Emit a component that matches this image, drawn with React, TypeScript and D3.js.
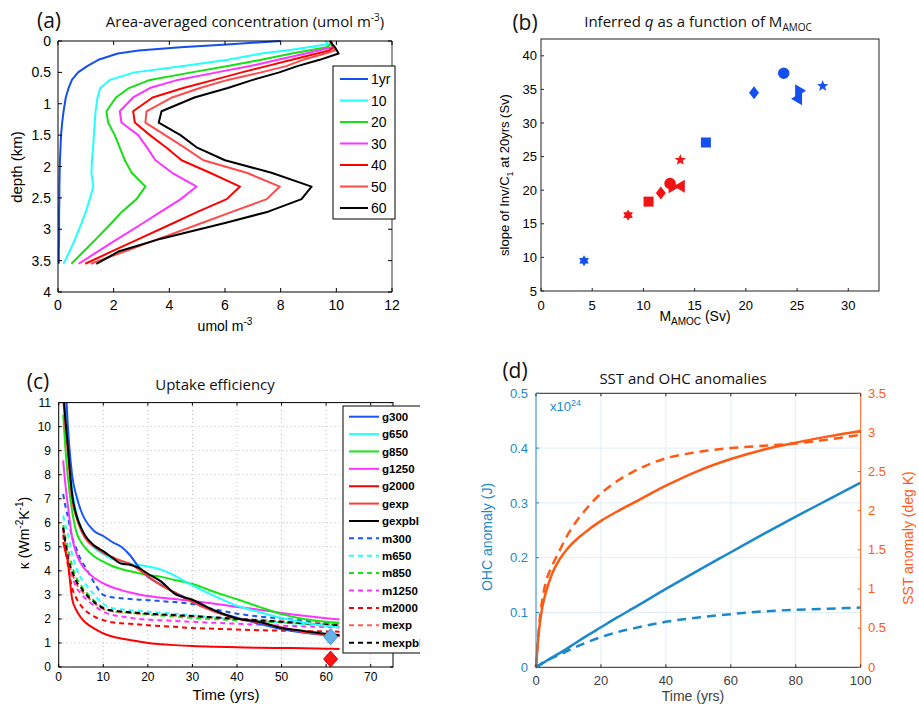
import { useEffect, useRef } from "react";
import * as d3 from "d3";

// ---------- (a) area-averaged concentration profiles ----------
const depthKm = [0, 0.05, 0.1, 0.15, 0.2, 0.3, 0.4, 0.5, 0.62, 0.75, 0.9, 1.12, 1.3, 1.5, 1.7, 1.9, 2.1, 2.32, 2.52, 2.72, 2.9, 3.15, 3.35, 3.55];
const conc1yr = [8.0, 6.2, 4.4, 2.9, 2.15, 1.45, 1.05, 0.72, 0.5, 0.38, 0.28, 0.2, 0.15, 0.11, 0.09, 0.07, 0.06, 0.05, 0.05, 0.04, 0.04, 0.04, 0.03, 0.03];
const conc10 = [9.6, 9.7, 9.0, 8.2, 7.3, 6.1, 4.5, 2.75, 1.86, 1.52, 1.42, 1.35, 1.32, 1.29, 1.26, 1.22, 1.2, 1.27, 1.14, 1.0, 0.85, 0.62, 0.42, 0.2];
const conc20 = [9.75, 9.8, 9.65, 9.0, 8.4, 7.3, 6.1, 4.8, 3.3, 2.55, 2.08, 1.74, 1.8, 2.04, 2.22, 2.4, 2.65, 3.14, 2.82, 2.3, 1.92, 1.38, 0.93, 0.48];
const conc30 = [9.75, 9.85, 9.85, 9.35, 8.9, 7.9, 6.9, 5.7, 4.3, 3.3, 2.7, 2.22, 2.28, 2.88, 3.2, 3.5, 4.1, 4.98, 4.41, 3.7, 3.06, 2.16, 1.45, 0.74];
const conc40 = [9.8, 9.85, 9.9, 9.75, 9.3, 8.4, 7.5, 6.6, 5.6, 4.5, 3.4, 2.7, 2.76, 3.3, 3.9, 4.44, 5.46, 6.54, 6.06, 5.03, 4.15, 2.93, 1.95, 0.98];
const conc50 = [9.8, 9.85, 9.9, 9.95, 9.6, 8.8, 8.2, 7.3, 6.1, 5.1, 4.1, 3.18, 3.14, 3.85, 4.55, 5.22, 6.78, 7.97, 7.5, 6.27, 5.17, 3.64, 2.41, 1.18];
const conc60 = [9.78, 9.85, 9.95, 10.02, 10.08, 9.4, 8.6, 7.95, 7.0, 6.1, 4.9, 3.72, 3.62, 4.4, 5.0, 6.0, 7.67, 9.11, 8.75, 7.55, 6.0, 3.7, 2.2, 1.38];
const aLabels = ["1yr", "10", "20", "30", "40", "50", "60"];
const aColors = ["#1450f0", "#22ffff", "#14e014", "#ff33ff", "#ff0000", "#ff4a4a", "#000000"];

// ---------- (b) inferred q vs M_AMOC ----------
const bShapes = ["hexagram", "square", "diamond", "circle", "triLeft", "triRight", "pentagram"];
const bBlueM = [4.2, 16.1, 20.8, 23.7, 25.0, 25.3, 27.5];
const bBlueQ = [9.5, 27.1, 34.5, 37.4, 33.6, 34.8, 35.5];
const bRedM = [8.5, 10.5, 11.7, 12.6, 13.55, 12.95, 13.6];
const bRedQ = [16.3, 18.3, 19.6, 21.0, 20.6, 20.5, 24.5];

// ---------- (c) uptake efficiency ----------
const cTime = [1, 1.5, 2, 3, 4, 5, 6, 8, 10, 12, 14, 16, 18, 20, 23, 26, 30, 35, 40, 45, 50, 55, 60, 63];
const g300 = [13.5, 12, 10.2, 8.0, 7.1, 6.5, 6.1, 5.65, 5.45, 5.2, 5.0, 4.65, 4.15, 3.75, 3.42, 3.1, 2.75, 2.32, 2.05, 1.8, 1.58, 1.42, 1.33, 1.3];
const g650 = [12.5, 11, 9.5, 7.4, 6.4, 5.8, 5.4, 4.95, 4.7, 4.5, 4.38, 4.3, 4.24, 4.18, 4.05, 3.8, 3.4, 2.95, 2.55, 2.28, 2.04, 1.85, 1.71, 1.65];
const g850 = [10.5, 9.1, 8.0, 6.5, 5.6, 5.2, 4.95, 4.6, 4.38, 4.2, 4.08, 3.98, 3.9, 3.83, 3.75, 3.62, 3.45, 3.12, 2.82, 2.5, 2.2, 2.0, 1.88, 1.84];
const g1250 = [8.6, 7.6, 6.8, 5.4, 4.7, 4.3, 4.05, 3.7, 3.48, 3.32, 3.2, 3.1, 3.02, 2.95, 2.88, 2.83, 2.75, 2.63, 2.5, 2.38, 2.25, 2.13, 2.03, 1.98];
const g2000 = [5.2, 4.8, 4.45, 2.85, 2.35, 2.05, 1.85, 1.6, 1.4, 1.27, 1.19, 1.12, 1.06, 1.0, 0.95, 0.91, 0.87, 0.84, 0.82, 0.8, 0.79, 0.78, 0.76, 0.75];
const gexp = [11.2, 10.0, 9.0, 7.0, 6.2, 5.7, 5.35, 5.0, 4.75, 4.58, 4.42, 4.3, 4.05, 3.78, 3.4, 3.1, 2.7, 2.3, 2.02, 1.85, 1.65, 1.45, 1.35, 1.28];
const gexpbl = [11.5, 10.3, 9.3, 7.2, 6.3, 5.8, 5.45, 5.05, 4.82, 4.55, 4.3, 4.25, 4.12, 3.88, 3.55, 3.05, 2.8, 2.35, 2.02, 1.88, 1.62, 1.5, 1.38, 1.32];
const m300 = [7.2, 6.7, 6.3, 5.4, 4.9, 4.45, 4.15, 3.5, 3.0, 2.9, 2.86, 2.83, 2.8, 2.78, 2.74, 2.7, 2.62, 2.4, 2.22, 2.1, 2.02, 1.93, 1.86, 1.82];
const m650 = [6.3, 5.9, 5.6, 4.7, 4.1, 3.7, 3.45, 3.0, 2.62, 2.45, 2.4, 2.36, 2.33, 2.3, 2.26, 2.22, 2.15, 2.07, 2.0, 1.92, 1.85, 1.78, 1.73, 1.7];
const m850 = [5.9, 5.4, 5.0, 4.2, 3.7, 3.4, 3.15, 2.75, 2.45, 2.32, 2.28, 2.25, 2.22, 2.18, 2.14, 2.1, 2.04, 1.99, 1.95, 1.9, 1.85, 1.81, 1.78, 1.76];
const m1250 = [5.8, 5.2, 4.7, 3.8, 3.3, 3.05, 2.85, 2.55, 2.3, 2.17, 2.1, 2.05, 2.0, 1.97, 1.94, 1.92, 1.88, 1.84, 1.8, 1.76, 1.72, 1.69, 1.66, 1.64];
const m2000 = [5.5, 4.9, 4.3, 3.3, 2.85, 2.55, 2.35, 2.1, 1.95, 1.86, 1.82, 1.8, 1.77, 1.74, 1.7, 1.67, 1.62, 1.59, 1.56, 1.53, 1.51, 1.49, 1.48, 1.47];
const mexp = [5.7, 5.1, 4.5, 3.9, 3.45, 3.2, 3.0, 2.65, 2.42, 2.32, 2.28, 2.25, 2.22, 2.2, 2.17, 2.14, 2.1, 2.05, 2.0, 1.95, 1.9, 1.85, 1.8, 1.78];
const mexpbl = [5.8, 5.2, 4.6, 4.0, 3.55, 3.3, 3.05, 2.7, 2.45, 2.35, 2.31, 2.28, 2.25, 2.22, 2.19, 2.16, 2.12, 2.06, 2.0, 1.94, 1.88, 1.82, 1.76, 1.72];
const cNames = ["g300", "g650", "g850", "g1250", "g2000", "gexp", "gexpbl", "m300", "m650", "m850", "m1250", "m2000", "mexp", "mexpbl"];
const cValues = [g300, g650, g850, g1250, g2000, gexp, gexpbl, m300, m650, m850, m1250, m2000, mexp, mexpbl];
const cColors = ["#1a55f5", "#22ffff", "#14e614", "#ff33ff", "#ff0000", "#ff3c3c", "#000000", "#1a55f5", "#22ffff", "#14e614", "#ff33ff", "#ff0000", "#ff5c5c", "#000000"];
const cMarkT = [61, 61];
const cMarkK = [1.26, 0.33];

// ---------- (d) SST and OHC anomalies ----------
const dTime = [0, 1, 2, 3, 5, 7, 10, 15, 20, 25, 30, 40, 50, 60, 70, 80, 90, 100];
const ohcSolid = [0, 0.0035, 0.007, 0.011, 0.018, 0.025, 0.036, 0.055, 0.073, 0.091, 0.108, 0.143, 0.177, 0.21, 0.243, 0.275, 0.306, 0.337];
const ohcDashed = [0, 0.004, 0.008, 0.011, 0.017, 0.022, 0.031, 0.044, 0.055, 0.064, 0.071, 0.083, 0.091, 0.097, 0.102, 0.105, 0.107, 0.109];
const sstSolid = [0, 0.5, 0.78, 0.95, 1.2, 1.36, 1.53, 1.72, 1.87, 1.99, 2.1, 2.32, 2.51, 2.66, 2.78, 2.87, 2.95, 3.02];
const sstDashed = [0, 0.55, 0.88, 1.08, 1.3, 1.47, 1.71, 2.0, 2.22, 2.38, 2.5, 2.67, 2.75, 2.8, 2.83, 2.86, 2.91, 2.97];

const SANS = "'Liberation Sans', Arial, sans-serif";
const TITLE = "'Open Sans', sans-serif";
const OHC_BLUE = "#1b88cc";
const SST_ORANGE = "#ff5a14";

function titleText(svg: any, x: number, y: number, size: number) {
  return svg.append("text").attr("x", x).attr("y", y).attr("text-anchor", "middle")
    .attr("font-family", TITLE).attr("font-size", size).attr("fill", "#111");
}

function drawA(svg: any) {
  const x = d3.scaleLinear().domain([0, 12]).range([58, 392]);
  const y = d3.scaleLinear().domain([0, 4]).range([41, 292]);
  const g = svg.append("g");
  const series = [conc1yr, conc10, conc20, conc30, conc40, conc50, conc60];
  const line = d3.line<number>().x(v => x(v)).y((v, i) => y(depthKm[i]));
  series.forEach((s, i) => {
    g.append("path").datum(s).attr("d", line).attr("fill", "none")
      .attr("stroke", aColors[i]).attr("stroke-width", 2).attr("stroke-linejoin", "round");
  });
  // frame
  g.append("line").attr("x1", x(0)).attr("x2", x(12)).attr("y1", y(0)).attr("y2", y(0)).attr("stroke", "#000");
  g.append("line").attr("x1", x(0)).attr("x2", x(12)).attr("y1", y(4)).attr("y2", y(4)).attr("stroke", "#000");
  g.append("line").attr("x1", x(0)).attr("x2", x(0)).attr("y1", y(0)).attr("y2", y(4)).attr("stroke", "#000");
  g.append("line").attr("x1", x(12)).attr("x2", x(12)).attr("y1", y(0)).attr("y2", y(4)).attr("stroke", "#999").attr("stroke-width", 2);
  x.ticks(6).forEach(t => {
    g.append("line").attr("x1", x(t)).attr("x2", x(t)).attr("y1", y(4)).attr("y2", y(4) - 4).attr("stroke", "#000");
    g.append("line").attr("x1", x(t)).attr("x2", x(t)).attr("y1", y(0)).attr("y2", y(0) + 4).attr("stroke", "#000");
    g.append("text").attr("x", x(t)).attr("y", 310).attr("text-anchor", "middle")
      .attr("font-family", SANS).attr("font-size", 14).text(t);
  });
  d3.range(0, 4.01, 0.5).forEach(t => {
    g.append("line").attr("x1", x(0)).attr("x2", x(0) + 4).attr("y1", y(t)).attr("y2", y(t)).attr("stroke", "#000");
    g.append("line").attr("x1", x(12)).attr("x2", x(12) - 4).attr("y1", y(t)).attr("y2", y(t)).attr("stroke", "#000");
    g.append("text").attr("x", 51).attr("y", y(t)).attr("dy", "0.36em").attr("text-anchor", "end")
      .attr("font-family", SANS).attr("font-size", 14).text(String(t));
  });
  g.append("text").attr("transform", "translate(22,167) rotate(-90)").attr("text-anchor", "middle")
    .attr("font-family", SANS).attr("font-size", 15).text("depth (km)");
  const xl = g.append("text").attr("x", 225).attr("y", 331).attr("text-anchor", "middle")
    .attr("font-family", SANS).attr("font-size", 14).text("umol m");
  xl.append("tspan").attr("dy", -6).attr("font-size", 10).text("-3");
  // legend
  g.append("rect").attr("x", 333).attr("y", 66).attr("width", 62).attr("height", 153)
    .attr("fill", "#fff").attr("stroke", "#000");
  aLabels.forEach((lab, i) => {
    const ly = 79 + i * 21.5;
    g.append("line").attr("x1", 340).attr("x2", 368).attr("y1", ly).attr("y2", ly)
      .attr("stroke", aColors[i]).attr("stroke-width", 2);
    g.append("text").attr("x", 371).attr("y", ly).attr("dy", "0.36em")
      .attr("font-family", SANS).attr("font-size", 14).text(lab);
  });
  titleText(g, 49, 28, 21).text("(a)");
  const tt = titleText(g, 245, 27, 15).text("Area-averaged concentration (umol m");
  tt.append("tspan").attr("dy", -6).attr("font-size", 10).text("-3");
  tt.append("tspan").attr("dy", 6).text(")");
}

function starPath(n: number, ro: number, ri: number) {
  const pts: [number, number][] = [];
  for (let k = 0; k < 2 * n; k++) {
    const r = k % 2 === 0 ? ro : ri;
    const a = -Math.PI / 2 + (k * Math.PI) / n;
    pts.push([r * Math.cos(a), r * Math.sin(a)]);
  }
  return "M" + pts.map(p => p.join(",")).join("L") + "Z";
}

function shapePath(kind: string) {
  switch (kind) {
    case "hexagram": return starPath(6, 5.6, 3.3);
    case "pentagram": return starPath(5, 6, 2.5);
    case "square": return "M-5,-5L5,-5L5,5L-5,5Z";
    case "diamond": return "M0,-6.5L5,0L0,6.5L-5,0Z";
    case "circle": return d3.symbol(d3.symbolCircle, 105)() as string;
    case "triLeft": return "M-6,0L5,-6.5L5,6.5Z";
    case "triRight": return "M6,0L-5,-6.5L-5,6.5Z";
  }
  return "";
}

function drawB(svg: any) {
  const x = d3.scaleLinear().domain([0, 33]).range([541, 879]);
  const y = d3.scaleLinear().domain([5, 42.5]).range([291, 39]);
  const g = svg.append("g");
  g.append("rect").attr("x", 541).attr("y", 39).attr("width", 338).attr("height", 252)
    .attr("fill", "none").attr("stroke", "#222");
  d3.range(0, 31, 5).forEach(t => {
    g.append("line").attr("x1", x(t)).attr("x2", x(t)).attr("y1", 291).attr("y2", 288).attr("stroke", "#222");
    g.append("text").attr("x", x(t)).attr("y", 310).attr("text-anchor", "middle")
      .attr("font-family", SANS).attr("font-size", 13).text(t);
  });
  d3.range(5, 41, 5).forEach(t => {
    g.append("line").attr("x1", 541).attr("x2", 544).attr("y1", y(t)).attr("y2", y(t)).attr("stroke", "#222");
    g.append("text").attr("x", 537).attr("y", y(t)).attr("dy", "0.36em").attr("text-anchor", "end")
      .attr("font-family", SANS).attr("font-size", 13).text(t);
  });
  const groups = [
    { m: bRedM, q: bRedQ, c: "#f01414" },
    { m: bBlueM, q: bBlueQ, c: "#1450f0" },
  ];
  groups.forEach(gr => {
    bShapes.forEach((s, i) => {
      g.append("path").attr("d", shapePath(s))
        .attr("transform", `translate(${x(gr.m[i])},${y(gr.q[i])})`)
        .attr("fill", gr.c);
    });
  });
  const yl = g.append("text").attr("transform", "translate(509,175) rotate(-90)").attr("text-anchor", "middle")
    .attr("font-family", SANS).attr("font-size", 13).text("slope of Inv/C");
  yl.append("tspan").attr("dy", 4).attr("font-size", 9).text("1");
  yl.append("tspan").attr("dy", -4).text("  at 20yrs (Sv)");
  const xl = g.append("text").attr("x", 695).attr("y", 321).attr("text-anchor", "middle")
    .attr("font-family", SANS).attr("font-size", 14).text("M");
  xl.append("tspan").attr("dy", 4).attr("font-size", 10).text("AMOC");
  xl.append("tspan").attr("dy", -4).text(" (Sv)");
  titleText(g, 525, 30, 21).text("(b)");
  const tt = titleText(g, 698, 27, 15).text("Inferred ");
  tt.append("tspan").attr("font-style", "italic").text("q");
  tt.append("tspan").text(" as a function of M");
  tt.append("tspan").attr("dy", 4).attr("font-size", 10).text("AMOC");
}

function drawC(svg: any) {
  const x = d3.scaleLinear().domain([0, 75]).range([58.7, 393]);
  const y = d3.scaleLinear().domain([0, 11]).range([667, 402.6]);
  svg.append("clipPath").attr("id", "panelC").append("rect").attr("x", 0).attr("y", 330).attr("width", 420).attr("height", 374);
  svg.append("clipPath").attr("id", "plotC").append("rect")
    .attr("x", x(0)).attr("y", y(11)).attr("width", x(75) - x(0)).attr("height", y(0) - y(11));
  const g = svg.append("g").attr("clip-path", "url(#panelC)");
  // grid
  d3.range(10, 71, 10).forEach(t => {
    g.append("line").attr("x1", x(t)).attr("x2", x(t)).attr("y1", y(0)).attr("y2", y(11))
      .attr("stroke", "#bdbdbd").attr("stroke-dasharray", "1,3");
  });
  d3.range(1, 11).forEach(t => {
    g.append("line").attr("x1", x(0)).attr("x2", x(75)).attr("y1", y(t)).attr("y2", y(t))
      .attr("stroke", "#bdbdbd").attr("stroke-dasharray", "1,3");
  });
  const plot = g.append("g").attr("clip-path", "url(#plotC)");
  const line = d3.line<number>().x((v, i) => x(cTime[i])).y(v => y(v)).curve(d3.curveMonotoneX);
  // dashed first, solid on top
  const order = [7, 8, 9, 10, 11, 12, 13, 4, 3, 2, 1, 0, 5, 6];
  order.forEach(i => {
    plot.append("path").datum(cValues[i]).attr("d", line).attr("fill", "none")
      .attr("stroke", cColors[i]).attr("stroke-width", 2)
      .attr("stroke-dasharray", i >= 7 ? "5,4" : null);
  });
  // end markers
  const diamond = (cx: number, cy: number, fill: string, stroke: string) =>
    plot.append("path").attr("d", "M0,-8L7,0L0,8L-7,0Z").attr("transform", `translate(${cx},${cy})`)
      .attr("fill", fill).attr("stroke", stroke).attr("stroke-width", 1);
  diamond(x(cMarkT[0]), y(cMarkK[0]), "#63b3ea", "#3b8fd0");
  diamond(x(cMarkT[1]), y(cMarkK[1]), "#ff1414", "#e00000");
  // frame & ticks
  g.append("rect").attr("x", x(0)).attr("y", y(11)).attr("width", x(75) - x(0)).attr("height", y(0) - y(11))
    .attr("fill", "none").attr("stroke", "#000");
  d3.range(0, 71, 10).forEach(t => {
    g.append("line").attr("x1", x(t)).attr("x2", x(t)).attr("y1", y(0)).attr("y2", y(0) - 3).attr("stroke", "#000");
    g.append("line").attr("x1", x(t)).attr("x2", x(t)).attr("y1", y(11)).attr("y2", y(11) + 3).attr("stroke", "#000");
    g.append("text").attr("x", x(t)).attr("y", 681).attr("text-anchor", "middle")
      .attr("font-family", SANS).attr("font-size", 12).text(t);
  });
  d3.range(0, 12).forEach(t => {
    g.append("line").attr("x1", x(0)).attr("x2", x(0) + 3).attr("y1", y(t)).attr("y2", y(t)).attr("stroke", "#000");
    g.append("line").attr("x1", x(75)).attr("x2", x(75) - 3).attr("y1", y(t)).attr("y2", y(t)).attr("stroke", "#000");
    g.append("text").attr("x", 51).attr("y", y(t)).attr("dy", "0.36em").attr("text-anchor", "end")
      .attr("font-family", SANS).attr("font-size", 12).text(t);
  });
  // legend
  g.append("rect").attr("x", 343).attr("y", 406).attr("width", 90).attr("height", 247)
    .attr("fill", "#fff").attr("stroke", "#000");
  cNames.forEach((name, i) => {
    const ly = 416.7 + i * 17.38;
    g.append("line").attr("x1", 349).attr("x2", 379).attr("y1", ly).attr("y2", ly)
      .attr("stroke", cColors[i]).attr("stroke-width", 2)
      .attr("stroke-dasharray", i >= 7 ? "5,4" : null);
    g.append("text").attr("x", 382).attr("y", ly).attr("dy", "0.36em")
      .attr("font-family", SANS).attr("font-weight", "bold").attr("font-size", 11.5).text(name);
  });
  const yl = g.append("text").attr("transform", "translate(29,533) rotate(-90)").attr("text-anchor", "middle")
    .attr("font-family", SANS).attr("font-size", 14).text("\u03ba (Wm");
  yl.append("tspan").attr("dy", -6).attr("font-size", 10).text("-2");
  yl.append("tspan").attr("dy", 6).text("K");
  yl.append("tspan").attr("dy", -6).attr("font-size", 10).text("-1");
  yl.append("tspan").attr("dy", 6).text(")");
  g.append("text").attr("x", 226).attr("y", 700).attr("text-anchor", "middle")
    .attr("font-family", SANS).attr("font-size", 15).text("Time (yrs)");
  titleText(g, 38, 389, 21).text("(c)");
  titleText(g, 215, 390, 15).text("Uptake efficiency");
}

function drawD(svg: any) {
  const x = d3.scaleLinear().domain([0, 100]).range([536, 860.7]);
  const yl = d3.scaleLinear().domain([0, 0.5]).range([667.3, 393.3]);
  const yr = d3.scaleLinear().domain([0, 3.5]).range([667.3, 393.3]);
  const g = svg.append("g");
  d3.range(20, 81, 20).forEach(t => {
    g.append("line").attr("x1", x(t)).attr("x2", x(t)).attr("y1", yl(0)).attr("y2", yl(0.5)).attr("stroke", "#e1edf6");
  });
  [0.1, 0.2, 0.3, 0.4].forEach(t => {
    g.append("line").attr("x1", x(0)).attr("x2", x(100)).attr("y1", yl(t)).attr("y2", yl(t)).attr("stroke", "#e1edf6");
  });
  const lineL = d3.line<number>().x((v, i) => x(dTime[i])).y(v => yl(v)).curve(d3.curveMonotoneX);
  const lineR = d3.line<number>().x((v, i) => x(dTime[i])).y(v => yr(v)).curve(d3.curveMonotoneX);
  g.append("path").datum(ohcDashed).attr("d", lineL).attr("fill", "none").attr("stroke", OHC_BLUE)
    .attr("stroke-width", 2.5).attr("stroke-dasharray", "9,6");
  g.append("path").datum(ohcSolid).attr("d", lineL).attr("fill", "none").attr("stroke", OHC_BLUE).attr("stroke-width", 2.5);
  g.append("path").datum(sstDashed).attr("d", lineR).attr("fill", "none").attr("stroke", SST_ORANGE)
    .attr("stroke-width", 2.5).attr("stroke-dasharray", "9,6");
  g.append("path").datum(sstSolid).attr("d", lineR).attr("fill", "none").attr("stroke", SST_ORANGE).attr("stroke-width", 2.5);
  // spines
  g.append("line").attr("x1", x(0)).attr("x2", x(100)).attr("y1", yl(0)).attr("y2", yl(0)).attr("stroke", "#262626");
  g.append("line").attr("x1", x(0)).attr("x2", x(100)).attr("y1", yl(0.5)).attr("y2", yl(0.5)).attr("stroke", "#262626");
  g.append("line").attr("x1", x(0)).attr("x2", x(0)).attr("y1", yl(0)).attr("y2", yl(0.5)).attr("stroke", OHC_BLUE);
  g.append("line").attr("x1", x(100)).attr("x2", x(100)).attr("y1", yl(0)).attr("y2", yl(0.5)).attr("stroke", SST_ORANGE);
  d3.range(0, 101, 20).forEach(t => {
    g.append("line").attr("x1", x(t)).attr("x2", x(t)).attr("y1", yl(0)).attr("y2", yl(0) - 3).attr("stroke", "#262626");
    g.append("line").attr("x1", x(t)).attr("x2", x(t)).attr("y1", yl(0.5)).attr("y2", yl(0.5) + 3).attr("stroke", "#262626");
    g.append("text").attr("x", x(t)).attr("y", 685).attr("text-anchor", "middle")
      .attr("font-family", SANS).attr("font-size", 13).attr("fill", "#404040").text(t);
  });
  [0, 0.1, 0.2, 0.3, 0.4, 0.5].forEach(t => {
    g.append("line").attr("x1", x(0)).attr("x2", x(0) + 3).attr("y1", yl(t)).attr("y2", yl(t)).attr("stroke", OHC_BLUE);
    g.append("text").attr("x", 528).attr("y", yl(t)).attr("dy", "0.36em").attr("text-anchor", "end")
      .attr("font-family", SANS).attr("font-size", 13).attr("fill", OHC_BLUE).text(String(t));
  });
  d3.range(0, 3.51, 0.5).forEach(t => {
    g.append("line").attr("x1", x(100)).attr("x2", x(100) - 3).attr("y1", yr(t)).attr("y2", yr(t)).attr("stroke", SST_ORANGE);
    g.append("text").attr("x", 868).attr("y", yr(t)).attr("dy", "0.33em")
      .attr("font-family", SANS).attr("font-size", 13).attr("fill", SST_ORANGE).text(String(t));
  });
  const ex = g.append("text").attr("x", 550).attr("y", 411)
    .attr("font-family", SANS).attr("font-size", 13).attr("fill", OHC_BLUE).text("x10");
  ex.append("tspan").attr("dy", -5).attr("font-size", 9).text("24");
  g.append("text").attr("transform", "translate(492,537) rotate(-90)").attr("text-anchor", "middle")
    .attr("font-family", SANS).attr("font-size", 14).attr("fill", OHC_BLUE).text("OHC anomaly (J)");
  g.append("text").attr("transform", "translate(913,538) rotate(-90)").attr("text-anchor", "middle")
    .attr("font-family", SANS).attr("font-size", 14).attr("fill", SST_ORANGE).text("SST anomaly (deg K)");
  g.append("text").attr("x", 693).attr("y", 701).attr("text-anchor", "middle")
    .attr("font-family", SANS).attr("font-size", 14).attr("fill", "#404040").text("Time (yrs)");
  titleText(svg, 515, 378, 21).text("(d)");
  titleText(svg, 683, 384, 15).text("SST and OHC anomalies");
}

export default function App() {
  const ref = useRef<SVGSVGElement>(null);
  useEffect(() => {
    const svg = d3.select(ref.current);
    svg.selectAll("*").remove();
    drawA(svg);
    drawB(svg);
    drawC(svg);
    drawD(svg);
  }, []);
  return (
    <svg ref={ref} width={919} height={704}
      style={{ position: "absolute", left: 0, top: 0, background: "#fff" }} />
  );
}
